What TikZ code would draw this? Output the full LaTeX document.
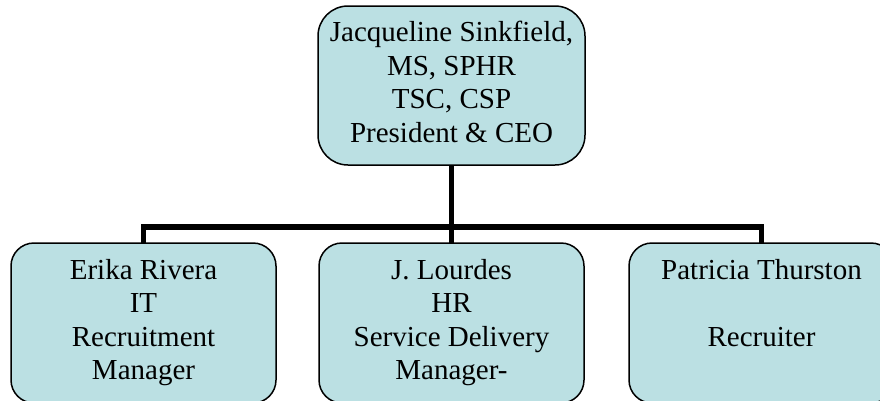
\documentclass[tikz,border=0pt]{standalone}
\usepackage{fontspec}
\setmainfont{Liberation Serif}
\definecolor{boxfill}{RGB}{187,224,227}
\begin{document}
\begin{tikzpicture}[x=1pt,y=-1pt,
  person/.style={draw=black,line width=1.5pt,fill=boxfill,rounded corners=23pt,
    minimum width=265pt,minimum height=160pt,inner sep=0pt,outer sep=0pt,
    align=center,font=\fontsize{29}{33.5}\selectfont},
  chief/.style={person,rounded corners=30pt,minimum width=267pt,minimum height=159pt},
  link/.style={draw=black,line width=5.5pt,line join=miter}]
\useasboundingbox (0,0) rectangle (880,400);
\clip (0,0) rectangle (880,400);
\node[chief] (top) at (451.5,85.5) {\strut Jacqueline Sinkfield,\\\strut MS, SPHR\\\strut TSC, CSP\\\strut President \& CEO};
\node[person] (a) at (143.5,323) {\strut Erika Rivera\\\strut IT\\\strut Recruitment\\\strut Manager};
\node[person] (b) at (451.5,323) {\strut J. Lourdes\\\strut HR\\\strut Service Delivery\\\strut Manager-};
\node[person] (c) at (761.5,323) {\strut Patricia Thurston\\\strut\\\strut Recruiter\\\strut};
\coordinate (j) at (451.5,227);
\draw[link] (top.south) -- (j);
\draw[link] (a.north) |- (j) -| (c.north);
\draw[link] (j) -- (b.north);
\end{tikzpicture}
\end{document}
